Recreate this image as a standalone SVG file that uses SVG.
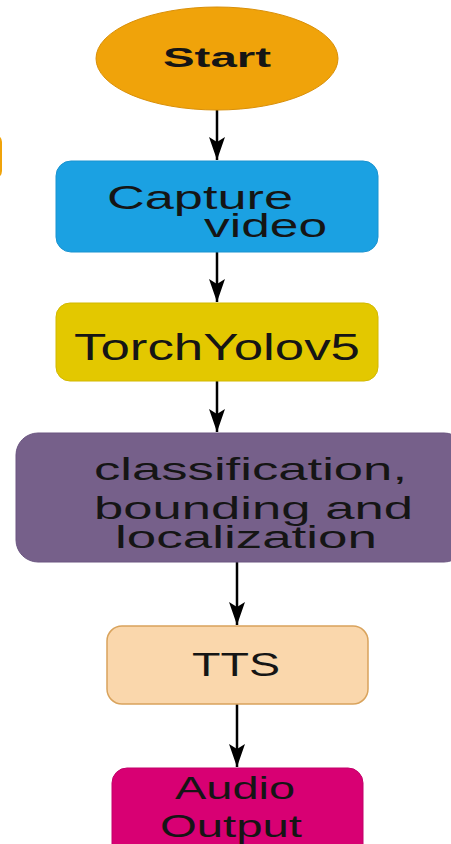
<svg xmlns="http://www.w3.org/2000/svg" width="451" height="844" viewBox="0 0 451 844">
  <style>
    .lbl { font-family: "Liberation Sans", Arial, sans-serif; fill: #151515; }
    .edge { stroke: #000; stroke-width: 2.5; fill: none; marker-end: url(#arrow); }
  </style>
  <defs>
    <marker id="arrow" markerWidth="24" markerHeight="16" refX="23" refY="8" orient="auto" markerUnits="userSpaceOnUse">
      <path d="M0,0 L23,8 L0,16 L5,8 Z" fill="#000"/>
    </marker>
  </defs>
  <rect width="451" height="844" fill="#fff"/>

  <g id="fragment">
    <rect x="-20" y="134" width="22" height="45" rx="8" fill="#f0a30a"/>
  </g>

  <g id="connectors">
    <line class="edge" x1="217" y1="110" x2="217" y2="160"/>
    <line class="edge" x1="217" y1="252" x2="217" y2="302"/>
    <line class="edge" x1="217" y1="381" x2="217" y2="432"/>
    <line class="edge" x1="237" y1="562" x2="237" y2="625"/>
    <line class="edge" x1="237" y1="704" x2="237" y2="767"/>
  </g>

  <g id="start">
    <ellipse cx="217" cy="58.5" rx="121" ry="51.5" fill="#f0a30a" stroke="#d98f08" stroke-width="1"/>
    <text class="lbl" x="163" y="67" font-size="28" font-weight="bold" textLength="108" lengthAdjust="spacingAndGlyphs">Start</text>
  </g>

  <g id="capture">
    <rect x="56" y="161" width="322" height="91" rx="15" fill="#1ba1e2" stroke="#1a93d0" stroke-width="1"/>
    <text class="lbl" x="107" y="209" font-size="33" textLength="186" lengthAdjust="spacingAndGlyphs">Capture</text>
    <text class="lbl" x="204" y="237" font-size="33" textLength="123" lengthAdjust="spacingAndGlyphs">video</text>
  </g>

  <g id="torch">
    <rect x="56" y="303" width="322" height="78" rx="14" fill="#e3c800" stroke="#d2b800" stroke-width="1"/>
    <text class="lbl" x="74" y="360" font-size="36" textLength="286" lengthAdjust="spacingAndGlyphs">TorchYolov5</text>
  </g>

  <g id="classify">
    <rect x="16" y="433" width="450" height="129" rx="22" fill="#76608a" stroke="#6a5580" stroke-width="1"/>
    <text class="lbl" x="94" y="480" font-size="32" textLength="313" lengthAdjust="spacingAndGlyphs">classification,</text>
    <text class="lbl" x="94" y="519" font-size="32" textLength="319" lengthAdjust="spacingAndGlyphs">bounding and</text>
    <text class="lbl" x="115" y="548" font-size="31" textLength="262" lengthAdjust="spacingAndGlyphs">localization</text>
  </g>

  <g id="tts">
    <rect x="107" y="626" width="261" height="78" rx="15" fill="#fad7ac" stroke="#d9a35c" stroke-width="1.5"/>
    <text class="lbl" x="192" y="676" font-size="33" textLength="88" lengthAdjust="spacingAndGlyphs">TTS</text>
  </g>

  <g id="audio">
    <rect x="112" y="768" width="251" height="100" rx="15" fill="#d80073" stroke="#c2006a" stroke-width="1"/>
    <text class="lbl" x="175" y="799" font-size="31" textLength="120" lengthAdjust="spacingAndGlyphs">Audio</text>
    <text class="lbl" x="160" y="837" font-size="31" textLength="142" lengthAdjust="spacingAndGlyphs">Output</text>
  </g>
</svg>
